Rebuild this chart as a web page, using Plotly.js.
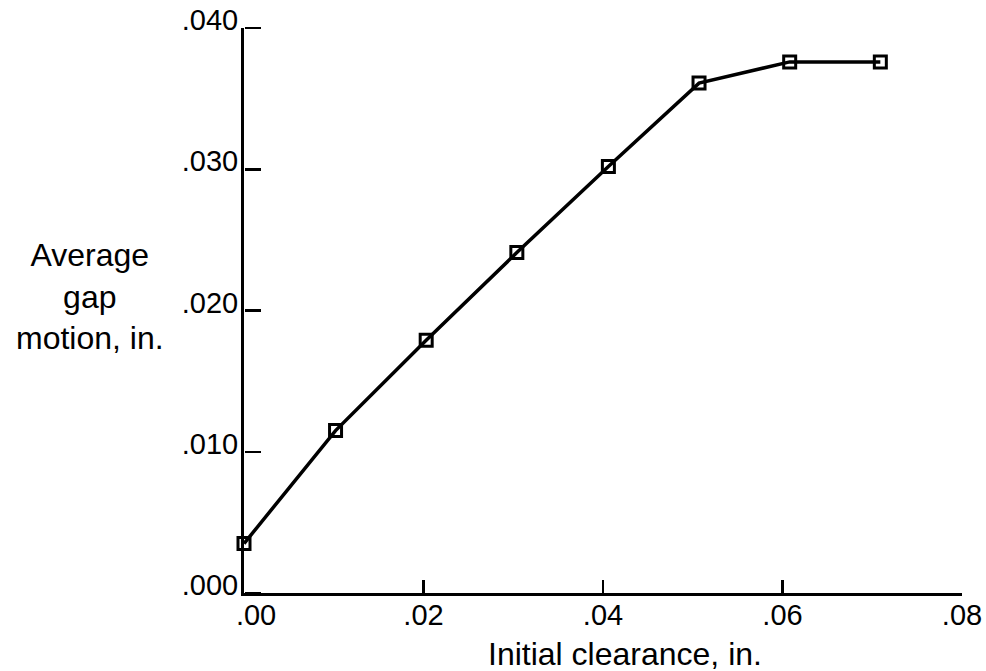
<!DOCTYPE html>
<html>
<head>
<meta charset="utf-8">
<script src="https://cdn.plot.ly/plotly-3.0.1.min.js"></script>
<style>html,body{margin:0;padding:0;background:#fff;}#chart{width:986px;height:671px;}</style>
</head>
<body>
<div id="chart"></div>
<script>
// Data
var clearance = [0.000, 0.0102, 0.0203, 0.0304, 0.0406, 0.0507, 0.0608, 0.0709];
var gapMotion = [0.0035, 0.0115, 0.0179, 0.0241, 0.0302, 0.0361, 0.0376, 0.0376];
var xTickVals = [0, 0.02, 0.04, 0.06, 0.08];
var xTickText = ['&nbsp;&nbsp;&nbsp;.00', '.02', '.04', '.06', '.08'];
var yTickVals = [0, 0.01, 0.02, 0.03, 0.04];
var yTickText = ['.000', '.010', '.020', '.030', '.040'];
var xTitle = 'Initial clearance, in.';
var yTitle = 'Average<br>gap<br>motion, in.';

var FONT = 'Liberation Sans, Arial, Helvetica, sans-serif';
var yRange = [0, 0.04];

var trace = {
  x: clearance,
  y: gapMotion,
  type: 'scatter',
  mode: 'lines+markers',
  line: {color: '#000', width: 3.5},
  marker: {symbol: 'square-open', size: 12, color: '#000', line: {width: 3, color: '#000'}},
  cliponaxis: false,
  showlegend: false,
  hoverinfo: 'x+y'
};
// registers the overlay axis that carries the inward y ticks (draws nothing)
var tickCarrier = {
  x: clearance,
  y: gapMotion,
  yaxis: 'y2',
  type: 'scatter',
  mode: 'none',
  showlegend: false,
  hoverinfo: 'skip'
};

var layout = {
  width: 986,
  height: 671,
  margin: {l: 244, r: 24, t: 28, b: 78},
  paper_bgcolor: '#fff',
  plot_bgcolor: '#fff',
  font: {family: FONT, size: 29, color: '#000'},
  xaxis: {
    range: [0, 0.08],
    autorange: false,
    tickmode: 'array',
    tickvals: xTickVals,
    ticktext: xTickText,
    ticks: 'inside',
    ticklen: 13,
    tickwidth: 2.5,
    tickcolor: '#000',
    showline: true,
    linecolor: '#000',
    linewidth: 3,
    showgrid: false,
    zeroline: false,
    ticklabelstandoff: -6,
    tickfont: {family: FONT, size: 29, color: '#000'}
  },
  yaxis: {
    range: yRange,
    autorange: false,
    tickmode: 'array',
    tickvals: yTickVals,
    ticktext: yTickText,
    ticks: '',
    showline: true,
    linecolor: '#000',
    linewidth: 3,
    showgrid: false,
    zeroline: false,
    ticklabelshift: -8,
    ticklabelstandoff: -3,
    tickfont: {family: FONT, size: 29, color: '#000'}
  },
  yaxis2: {
    overlaying: 'y',
    side: 'right',
    anchor: 'free',
    position: 0,
    range: yRange,
    autorange: false,
    tickmode: 'array',
    tickvals: yTickVals,
    ticks: 'outside',
    ticklen: 16,
    tickwidth: 2.5,
    tickcolor: '#000',
    showticklabels: false,
    showline: false,
    showgrid: false,
    zeroline: false
  },
  annotations: [
    {
      text: xTitle, xref: 'paper', yref: 'paper',
      x: (625 - 244) / (986 - 244 - 24), y: -(654 - 593) / (671 - 28 - 78),
      xanchor: 'center', yanchor: 'middle', showarrow: false,
      font: {family: FONT, size: 32, color: '#000'}
    },
    {
      text: yTitle, xref: 'paper', yref: 'paper',
      x: -(244 - 90) / (986 - 244 - 24), y: (593 - 296) / (671 - 28 - 78),
      xanchor: 'center', yanchor: 'middle', align: 'center', showarrow: false,
      font: {family: FONT, size: 32, color: '#000'}
    }
  ]
};

Plotly.newPlot('chart', [trace, tickCarrier], layout, {displayModeBar: false, staticPlot: true});
</script>
</body>
</html>
